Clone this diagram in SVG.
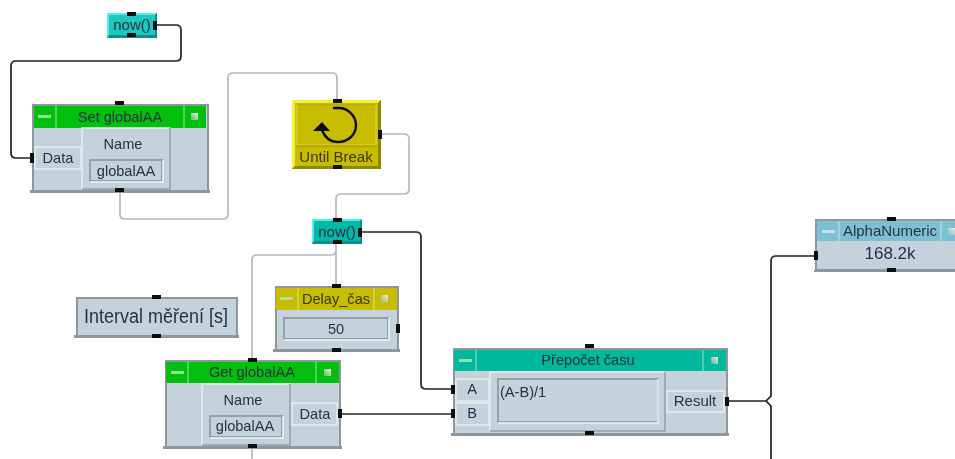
<svg xmlns="http://www.w3.org/2000/svg" width="955" height="459" viewBox="0 0 955 459">
<style>
text{font-family:"Liberation Sans",Arial,sans-serif;font-size:14.6px;fill:#2c3040;text-anchor:middle}
.body{fill:#c3d2db;stroke:#8d989e;stroke-width:2}
.shadow{fill:#8d989e}
.raised{fill:#c3d2db;stroke:#e6edf1;stroke-width:1.5}
.raisedb{fill:none;stroke:#8d989e;stroke-width:1.5}
.sunk{fill:#c3d2db;stroke:#8a949a;stroke-width:1.6}
.hi{fill:none;stroke:#f2f5f6;stroke-width:1.5}
.port{fill:#0a0a0a}
.sep{stroke:#e4f0e4;stroke-width:1;opacity:.7}
.dash{fill:#b8e8b0;opacity:.8}
.wb{fill:none;stroke:#222;stroke-width:1.7}
.wg{fill:none;stroke:#b5b9bb;stroke-width:1.7}
.dark{fill:#3a3600}
</style>
<defs>
<linearGradient id="icon" x1="0" y1="1" x2="1" y2="0"><stop offset="0" stop-color="#9bc" stop-opacity=".6"/><stop offset="1" stop-color="#f4f4d0"/></linearGradient>
<filter id="soft" filterUnits="userSpaceOnUse" x="0" y="0" width="955" height="459"><feGaussianBlur stdDeviation="0.4"/></filter>
</defs>
<rect width="955" height="459" fill="#fff"/>
<g filter="url(#soft)">
<g id="connectors">
<path class="wb" d="M156 25H176Q181 25 181 30V56Q181 61 176 61H16Q11 61 11 66V153Q11 158 16 158H32"/>
<path class="wg" d="M120 191V214Q120 219 125 219H223Q228 219 228 214V78Q228 73 233 73H332Q337 73 337 78V100"/>
<path class="wg" d="M381 134H404Q409 134 409 139V189Q409 194 404 194H341Q336 194 336 199V220"/>
<path class="wg" d="M336 244V286"/>
<path class="wg" d="M336 250Q336 255 331 255H257Q252 255 252 260V360"/>
<path class="wg" d="M252 447V459"/>
<path class="wb" d="M361 232H416Q421 232 421 237V384Q421 389 426 389H453"/>
<path class="wb" d="M341 414H453"/>
<path class="wb" d="M727 401H766L771 396V261Q771 256 776 256H816"/>
<path class="wb" d="M766 401L771 406V459"/>
</g>
<g id="now1">
<rect x="107" y="13" width="50" height="25" fill="#1fc8c0"/>
<path d="M107 13H157L155 15H109V35L107 38Z" fill="#4ff0e8"/>
<path d="M107 38L109 35H155V15L157 13V38Z" fill="#0c8f88"/>
<text x="132" y="30" style="font-size:15px">now()</text>
<rect class="port" x="127" y="12" width="9" height="4"/><rect class="port" x="127" y="33" width="9" height="4"/><rect class="port" x="153" y="21" width="4" height="9"/>
</g>
<g id="set-global">
<rect class="shadow" x="30" y="190" width="180" height="3"/>
<rect class="body" x="33" y="105" width="175" height="86"/>
<rect x="34" y="106" width="172" height="22" fill="#00bf10"/>
<path class="sep" d="M56 106V128M184 106V128"/>
<rect class="dash" x="38" y="115" width="13" height="3"/>
<rect x="191" y="113" width="7" height="7" fill="url(#icon)"/>
<text x="120" y="122">Set globalAA</text>
<rect class="raised" x="35" y="147" width="46" height="22"/>
<text x="58" y="163">Data</text>
<rect class="raised" x="82" y="128" width="88" height="61"/>
<path class="raisedb" d="M170 128V189H82"/>
<text x="123" y="149">Name</text>
<rect class="sunk" x="90" y="160" width="72" height="21"/>
<path class="hi" d="M90 182H163V160"/>
<text x="126" y="176">globalAA</text>
<rect class="port" x="115" y="101" width="9" height="4"/><rect class="port" x="115" y="188" width="9" height="4"/><rect class="port" x="30" y="153" width="4" height="10"/>
</g>
<g id="until-break">
<rect x="292" y="100" width="89" height="69" fill="#c8bc00"/>
<path d="M292 100H381L378 103H295V166L292 169Z" fill="#f6f030"/>
<path d="M292 169L295 166H378V103L381 100V169Z" fill="#8f8700"/>
<path d="M297 105H376V145H297Z" fill="none" stroke="#e0d840" stroke-width="1"/>
<path d="M297 146H377M297 105H376" stroke="#8f8700" stroke-width=".8" fill="none"/>
<path d="M333 108H339C348 108 356 116 356 125C356 135 348 142 338 142C331 142 325 138 322 130" fill="none" stroke="#111" stroke-width="2.4"/>
<path d="M313 131L322 122L330 131Z" fill="#111"/>
<text class="dark" x="336" y="162" style="font-size:15px">Until Break</text>
<rect class="port" x="333" y="99" width="9" height="4"/><rect class="port" x="333" y="165" width="9" height="4"/><rect class="port" x="378" y="130" width="4" height="9"/>
</g>
<g id="now2">
<rect x="312" y="219" width="50" height="25" fill="#00b8a8"/>
<path d="M312 219H362L360 221H314V241L312 244Z" fill="#4ff0e8"/>
<path d="M312 244L314 241H360V221L362 219V244Z" fill="#0c8f88"/>
<text x="337" y="237" style="font-size:15px">now()</text>
<rect class="port" x="333" y="218" width="9" height="4"/><rect class="port" x="333" y="240" width="9" height="4"/><rect class="port" x="358" y="228" width="4" height="9"/>
</g>
<g id="delay">
<rect class="shadow" x="273" y="349" width="127" height="3"/>
<rect class="body" x="276" y="287" width="122" height="63"/>
<rect x="276" y="288" width="121" height="22" fill="#c8bc00"/>
<path class="sep" d="M298 288V310M374 288V310"/>
<rect class="dash" x="280" y="297" width="13" height="3"/>
<rect x="381" y="295" width="7" height="7" fill="url(#icon)"/>
<text class="dark" x="336" y="304">Delay_čas</text>
<rect class="sunk" x="284" y="318" width="104" height="21"/>
<path class="hi" d="M284 340H389V318"/>
<text x="336" y="334">50</text>
<rect class="port" x="332" y="284" width="9" height="4"/><rect class="port" x="332" y="348" width="9" height="4"/><rect class="port" x="396" y="324" width="4" height="9"/>
</g>
<g id="interval">
<rect class="shadow" x="74" y="335" width="165" height="3"/>
<rect class="body" x="77" y="298" width="160" height="38"/>
<text x="156" y="323" textLength="144" lengthAdjust="spacingAndGlyphs" style="font-size:20px">Interval měření [s]</text>
<rect class="port" x="152" y="295" width="9" height="4"/><rect class="port" x="152" y="334" width="9" height="4"/>
</g>
<g id="get-global">
<rect class="shadow" x="163" y="446" width="179" height="3"/>
<rect class="body" x="166" y="361" width="174" height="86"/>
<rect x="166" y="362" width="173" height="21" fill="#00bf10"/>
<path class="sep" d="M188 362V383M316 362V383"/>
<rect class="dash" x="171" y="371" width="13" height="3"/>
<rect x="324" y="369" width="7" height="7" fill="url(#icon)"/>
<text x="252" y="377">Get globalAA</text>
<rect class="raised" x="202" y="384" width="88" height="61"/>
<path class="raisedb" d="M290 384V445H202"/>
<text x="243" y="405">Name</text>
<rect class="sunk" x="210" y="416" width="72" height="21"/>
<path class="hi" d="M210 438H283V416"/>
<text x="245" y="431">globalAA</text>
<rect class="raised" x="292" y="403" width="45" height="22"/>
<text x="315" y="419">Data</text>
<rect class="port" x="248" y="358" width="9" height="4"/><rect class="port" x="248" y="444" width="9" height="4"/><rect class="port" x="338" y="409" width="4" height="9"/>
</g>
<g id="prepocet">
<rect class="shadow" x="451" y="433" width="278" height="3"/>
<rect class="body" x="454" y="349" width="273" height="85"/>
<rect x="454" y="350" width="272" height="21" fill="#00b89c"/>
<path class="sep" d="M476 350V371M703 350V371"/>
<rect class="dash" x="459" y="359" width="13" height="3"/>
<rect x="711" y="357" width="7" height="7" fill="url(#icon)"/>
<text x="588" y="365">Přepočet času</text>
<rect class="raised" x="456" y="379" width="33" height="22"/>
<text x="472" y="394">A</text>
<rect class="raised" x="456" y="403" width="33" height="22"/>
<text x="472" y="418">B</text>
<rect class="raised" x="490" y="372" width="175" height="59"/>
<path class="raisedb" d="M665 372V431H490"/>
<rect class="sunk" x="498" y="379" width="160" height="43"/>
<path class="hi" d="M498 423H658V379"/>
<text x="500" y="397" style="text-anchor:start">(A-B)/1</text>
<rect class="raised" x="667" y="391" width="57" height="21"/>
<text x="695" y="406" style="font-size:15px">Result</text>
<rect class="port" x="585" y="344" width="9" height="4"/><rect class="port" x="585" y="431" width="9" height="4"/><rect class="port" x="451" y="385" width="4" height="9"/><rect class="port" x="451" y="409" width="4" height="9"/><rect class="port" x="725" y="397" width="4" height="9"/>
</g>
<g id="alphanumeric">
<rect class="shadow" x="814" y="270" width="141" height="2"/>
<rect class="body" x="816" y="220" width="141" height="50"/>
<rect x="817" y="221" width="138" height="20" fill="#7cc0d4"/>
<path class="sep" d="M839 221V241M941 221V241"/>
<rect class="dash" x="822" y="230" width="13" height="3" style="fill:#d8e8f0"/>
<rect x="948" y="228" width="7" height="7" fill="url(#icon)"/>
<text x="890" y="236" style="font-size:15px">AlphaNumeric</text>
<text x="890" y="259" style="font-size:17px">168.2k</text>
<rect class="port" x="887" y="217" width="9" height="4"/><rect class="port" x="887" y="268" width="9" height="4"/><rect class="port" x="814" y="251" width="4" height="9"/>
</g>
</g>
</svg>
